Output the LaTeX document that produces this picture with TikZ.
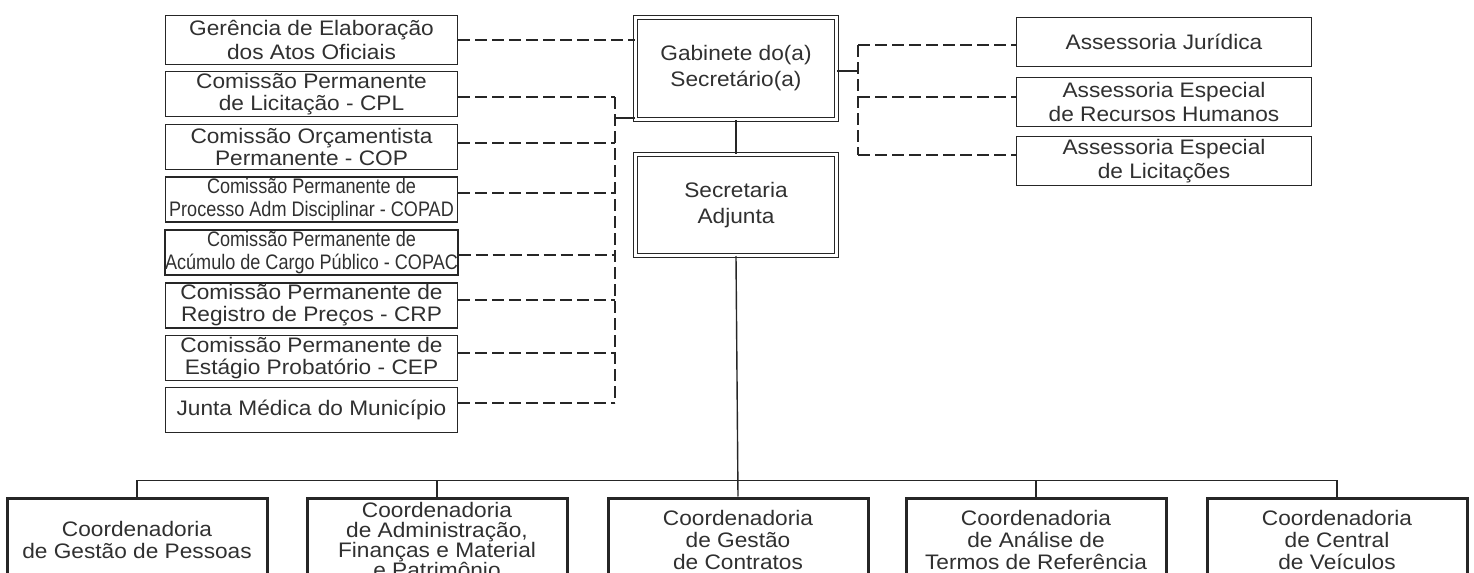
\documentclass[tikz,border=0pt]{standalone}
\usepackage{fontspec}
\setmainfont{Liberation Sans}[FakeStretch=1.08]
\newfontfamily\estreitafont{Liberation Sans}[FakeStretch=0.86]
\definecolor{linha}{HTML}{262626}
\definecolor{texto}{HTML}{303030}
\begin{document}
\begin{tikzpicture}[x=0.5pt, y=-0.5pt,
    caixa/.style={draw=linha, line width=0.7pt, text=texto, align=center, inner sep=0pt,
      minimum width=146pt, minimum height=22.5pt, font=\fontsize{10.5}{11}\selectfont},
    estreita/.style={caixa, font=\estreitafont\fontsize{10.5}{11.5}\selectfont},
    assessoria/.style={caixa, minimum width=147.5pt, minimum height=24.5pt, font=\fontsize{10.5}{12}\selectfont},
    chefia/.style={draw=linha, line width=0.5pt, double=white, double distance=1.2pt, text=texto,
      align=center, inner sep=0pt, minimum width=100.5pt, font=\fontsize{10.5}{13}\selectfont},
    coordenadoria/.style={draw=linha, line width=1.5pt, text=texto, align=center, inner sep=0pt,
      minimum width=130pt, minimum height=42pt, font=\fontsize{10.5}{11}\selectfont},
    ligacao/.style={draw=linha, line width=0.7pt},
    tracejado/.style={draw=linha, line width=0.7pt, dash pattern=on 6pt off 2.5pt}]
\useasboundingbox (0,0) rectangle (1474,573);
\clip (0,0) rectangle (1474,573);

\node[chefia, minimum height=51pt] (gab) at (736,68.5) {Gabinete do(a)\\Secretário(a)};
\node[chefia, minimum height=50.5pt] (adj) at (736,205) {Secretaria\\Adjunta};

\node[caixa, minimum height=24.5pt, font=\fontsize{10.5}{12}\selectfont] (geao) at (311.5,40) {Gerência de Elaboração\\dos Atos Oficiais};
\node[caixa] (cpl) at (311.5,94) {Comissão Permanente\\de Licitação - CPL};
\node[caixa] (cop) at (311.5,147) {Comissão Orçamentista\\Permanente - COP};
\node[estreita] (copad) at (311.5,199.5) {Comissão Permanente de\\Processo Adm Disciplinar - COPAD};
\node[estreita] (copac) at (311.5,252.5) {Comissão Permanente de\\Acúmulo de Cargo Público - COPAC};
\node[caixa] (crp) at (311.5,305.5) {Comissão Permanente de\\Registro de Preços - CRP};
\node[caixa] (cep) at (311.5,358) {Comissão Permanente de\\Estágio Probatório - CEP};
\node[caixa] (junta) at (311.5,410) {Junta Médica do Município};

\node[assessoria] (jur) at (1164,42) {Assessoria Jurídica};
\node[assessoria] (rh) at (1164,102) {Assessoria Especial\\de Recursos Humanos};
\node[assessoria] (lic) at (1164,161) {Assessoria Especial\\de Licitações};

\node[coordenadoria] (cgp) at (137,540) {Coordenadoria\\de Gestão de Pessoas};
\node[coordenadoria, font=\fontsize{10.5}{10}\selectfont] (caf) at (437,540) {Coordenadoria\\de Administração,\\Finanças e Material\\e Patrimônio};
\node[coordenadoria] (cgc) at (738,540) {Coordenadoria\\de Gestão\\de Contratos};
\node[coordenadoria] (cat) at (1036,540) {Coordenadoria\\de Análise de\\Termos de Referência};
\node[coordenadoria] (ccv) at (1337,540) {Coordenadoria\\de Central\\de Veículos};

% lado esquerdo
\draw[tracejado] (geao.east) -- (geao.east -| gab.west);
\coordinate (esqA) at (615,97);
\coordinate (esqB) at (615,403);
\coordinate (esqG) at (615,118);
\draw[tracejado] (esqA) -- (esqB);
\draw[ligacao] (esqG) -- (esqG -| gab.west);
\foreach \n/\y in {cpl/97, cop/143, copad/193, copac/255, crp/300, cep/353, junta/403} {
  \coordinate (e-\n) at (615,\y);
  \draw[tracejado] (\n.east |- e-\n) -- (e-\n);
}

% lado direito
\coordinate (dirG) at (858,71);
\coordinate (dirA) at (858,45);
\coordinate (dirB) at (858,97);
\coordinate (dirC) at (858,155);
\draw[ligacao] (dirG -| gab.east) -- (dirG);
\draw[tracejado] (dirA) -- (dirC);
\draw[tracejado] (dirA) -- (dirA -| jur.west);
\draw[tracejado] (dirB) -- (dirB -| rh.west);
\draw[tracejado] (dirC) -- (dirC -| lic.west);

% coordenadorias
\draw[ligacao] (gab.south) -- (adj.north);
\draw[ligacao] (adj.south) -- (cgc.north);
\draw[ligacao] (cgp.north) -- ++(0,-16) -| (ccv.north);
\draw[ligacao] (caf.north) -- ++(0,-16);
\draw[ligacao] (cat.north) -- ++(0,-16);
\end{tikzpicture}
\end{document}
